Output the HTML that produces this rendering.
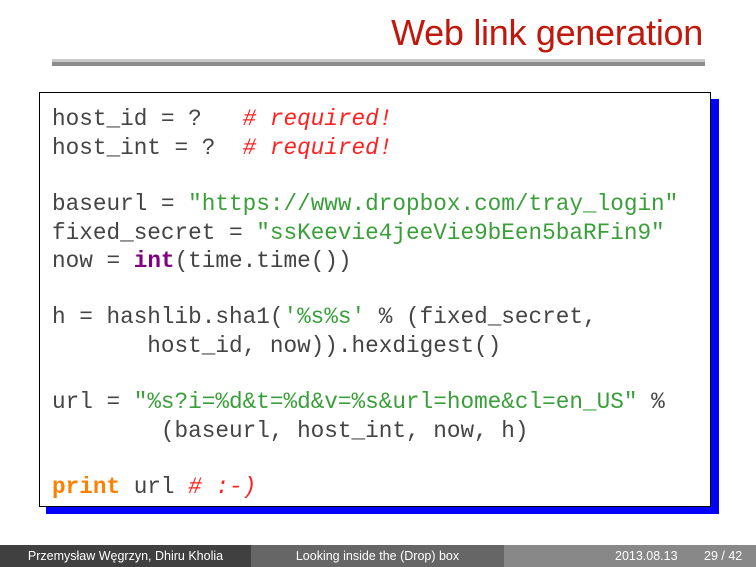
<!DOCTYPE html>
<html><head><meta charset="utf-8"><style>
body{margin:0;width:756px;height:567px;background:#fff;position:relative;overflow:hidden;font-family:"Liberation Sans",sans-serif}
.title{position:absolute;right:53px;top:12px;font-size:36px;color:#c0180c;white-space:nowrap;letter-spacing:-0.3px}
.r1{position:absolute;left:52px;top:59px;width:653px;height:3px;background:#c8c8c8}
.r2{position:absolute;left:52px;top:62px;width:653px;height:4px;background:#8c8c8c}
.shadow{position:absolute;left:46px;top:99px;width:673px;height:415px;background:#0000ff}
.box{position:absolute;left:39px;top:92px;width:670px;height:413px;background:#fff;border:1px solid #000}
.l{position:absolute;left:52px;font-family:"Liberation Mono",monospace;font-size:22.7px;color:#444;white-space:pre;line-height:28px}
.s{color:#3a9f3a}.c{color:#ff2020;font-style:italic}.k{color:#800080;font-weight:bold}.p{color:#ff8000;font-weight:bold}
.foot{position:absolute;top:545px;height:22px;font-size:12.5px;color:#fff;line-height:22px}
</style></head><body>
<div class="title">Web link generation</div>
<div class="r1"></div><div class="r2"></div>
<div class="shadow"></div><div class="box"></div>
<div class="l" style="top:105px">host_id = ?   <span class="c"># required!</span></div>
<div class="l" style="top:134px">host_int = ?  <span class="c"># required!</span></div>
<div class="l" style="top:190px">baseurl = <span class="s">"https://www.dropbox.com/tray_login"</span></div>
<div class="l" style="top:219px">fixed_secret = <span class="s">"ssKeevie4jeeVie9bEen5baRFin9"</span></div>
<div class="l" style="top:247px">now = <span class="k">int</span>(time.time())</div>
<div class="l" style="top:303px">h = hashlib.sha1(<span class="s">'%s%s'</span> % (fixed_secret,</div>
<div class="l" style="top:332px">       host_id, now)).hexdigest()</div>
<div class="l" style="top:388px">url = <span class="s">"%s?i=%d&amp;t=%d&amp;v=%s&amp;url=home&amp;cl=en_US"</span> %</div>
<div class="l" style="top:417px">        (baseurl, host_int, now, h)</div>
<div class="l" style="top:473px"><span class="p">print</span> url <span class="c"># :-)</span></div>
<div class="foot" style="left:0;width:251px;background:#404040;text-align:center">Przemysław Węgrzyn, Dhiru Kholia</div>
<div class="foot" style="left:251px;width:253px;background:#666;text-align:center">Looking inside the (Drop) box</div>
<div class="foot" style="left:504px;width:252px;background:#888"><span style="position:absolute;left:111px">2013.08.13</span><span style="position:absolute;left:200px">29 / 42</span></div>
</body></html>
